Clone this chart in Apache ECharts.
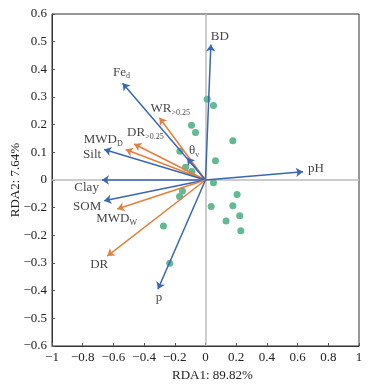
<!DOCTYPE html>
<html><head><meta charset="utf-8">
<script src="https://cdn.jsdelivr.net/npm/echarts@6/dist/echarts.min.js"></script>
<style>html,body{margin:0;padding:0;background:#fff}#c{width:374px;height:389px}</style>
</head><body><div id="c"></div>
<script>
// ---- data ----
const varNames = ['BD','Fe_d','WR>0.25','DR>0.25','MWD_D','Silt','theta_v','Clay','pH','SOM','MWD_W','DR','p'];
const varX = [0.035,-0.54,-0.30,-0.465,-0.52,-0.66,-0.12,-0.675,0.635,-0.66,-0.575,-0.64,-0.31];
const varY = [0.49,0.35,0.225,0.13,0.11,0.11,0.08,0.0,0.03,-0.075,-0.105,-0.275,-0.395];
const varGroup = ['soil','soil','agg','agg','agg','soil','soil','soil','soil','soil','agg','agg','soil'];
const sampleX = [0.011,0.052,-0.091,-0.065,0.178,-0.167,0.065,-0.130,-0.089,0.052,-0.150,-0.169,0.206,0.037,0.178,0.223,0.134,0.230,-0.274,-0.233];
const sampleY = [0.292,0.269,0.198,0.172,0.142,0.104,0.07,0.046,0.031,-0.01,-0.04,-0.06,-0.052,-0.096,-0.093,-0.129,-0.148,-0.183,-0.166,-0.301];
const xTickLabels = ['\u22121','\u22120.8','\u22120.6','\u22120.4','\u22120.2','0','0.2','0.4','0.6','0.8','1'];
const yTickLabels = ['\u22120.6','\u22120.5','\u22120.4','\u22120.3','\u22120.2','\u22120.2','0','0.1','0.2','0.3','0.4','0.5','0.6'];
const xName = 'RDA1: 89.82%';
const yName = 'RDA2: 7.64%';

// ---- styles ----
const groupColor = {soil:'#3a66b4', agg:'#e2803f'};
const labelStyle = {
  'BD':      {txt:'{n|BD}', align:'left', off:[0,-8]},
  'Fe_d':    {txt:'{n|Fe}{s|d}', align:'center', off:[-1,-11]},
  'WR>0.25': {txt:'{n|WR}{s|>0.25}', align:'left', off:[-9,-9]},
  'DR>0.25': {txt:'{n|DR}{s|>0.25}', align:'left', off:[-7,-11]},
  'MWD_D':   {txt:'{n|MWD}{s|D}', align:'right', off:[-3,-10]},
  'Silt':    {txt:'{n|Silt}', align:'right', off:[-3,5]},
  'theta_v': {txt:'{n|\u03b8}{s|v}', align:'left', off:[2,-7]},
  'Clay':    {txt:'{n|Clay}', align:'right', off:[-3,8]},
  'pH':      {txt:'{n|pH}', align:'left', off:[5,-3]},
  'SOM':     {txt:'{n|SOM}', align:'right', off:[-3,6]},
  'MWD_W':   {txt:'{n|MWD}{s|W}', align:'left', off:[-21,10]},
  'DR':      {txt:'{n|DR}', align:'right', off:[1,8]},
  'p':       {txt:'{n|p}', align:'center', off:[1,8]}
};
const FONT = 'Liberation Serif';

const chart = echarts.init(document.getElementById('c'));
const arrowData = varNames.map((n,i)=>({coords:[[0,0],[varX[i],varY[i]]], lineStyle:{color:groupColor[varGroup[i]]}}));
const labelData = varNames.map((n,i)=>({value:[varX[i],varY[i]], label:{formatter:labelStyle[n].txt, align:labelStyle[n].align, offset:labelStyle[n].off}}));

chart.setOption({
  animation:false,
  textStyle:{fontFamily:FONT},
  grid:{left:52,right:15,top:14,bottom:43,show:true,borderColor:'#333',borderWidth:1,backgroundColor:'transparent',containLabel:false,outerBoundsMode:'none'},
  xAxis:{type:'value',min:-1,max:1,interval:0.2,
    name:xName,nameLocation:'middle',nameGap:23,nameMoveOverlap:false,
    nameTextStyle:{fontFamily:FONT,fontSize:13,color:'#222',padding:[0,0,0,14]},
    axisLine:{show:true,onZero:false,lineStyle:{color:'#333'}},
    axisTick:{show:true,inside:true,length:3,lineStyle:{color:'#555'}},
    splitLine:{show:false},
    axisLabel:{fontFamily:FONT,fontSize:13,color:'#222',margin:5,
      formatter:v=>xTickLabels[Math.round((v+1)/0.2)]}},
  yAxis:{type:'value',min:-0.6,max:0.6,interval:0.1,
    name:yName,nameLocation:'middle',nameGap:30,nameMoveOverlap:false,
    nameTextStyle:{fontFamily:FONT,fontSize:13,color:'#222'},
    axisLine:{show:true,onZero:false,lineStyle:{color:'#333'}},
    axisTick:{show:true,inside:true,length:3,lineStyle:{color:'#555'}},
    splitLine:{show:false},
    axisLabel:{fontFamily:FONT,fontSize:13,color:'#222',margin:5,
      formatter:v=>yTickLabels[Math.round((v+0.6)/0.1)]}},
  series:[
    {type:'scatter',data:sampleX.map((x,i)=>[x,sampleY[i]]),symbolSize:7,
      itemStyle:{color:'#63b994',opacity:1},z:1,
      markLine:{silent:true,symbol:'none',label:{show:false},z:1,
        lineStyle:{color:'#bdbdbd',type:'solid',width:1.5},
        data:[{xAxis:0},{yAxis:0}]}},
    {type:'lines',coordinateSystem:'cartesian2d',data:arrowData,
      symbol:['none','arrow'],symbolSize:7,lineStyle:{width:1.5,opacity:1},z:5},
    {type:'scatter',data:labelData,symbolSize:0,z:6,silent:true,
      label:{show:true,position:'inside',verticalAlign:'middle',color:'#111',
        rich:{n:{fontFamily:FONT,fontSize:13,color:'#111',lineHeight:16},
              s:{fontFamily:FONT,fontSize:8,color:'#111',lineHeight:16,verticalAlign:'bottom',padding:[6,0,0,0]}}}}
  ]
});
</script></body></html>
